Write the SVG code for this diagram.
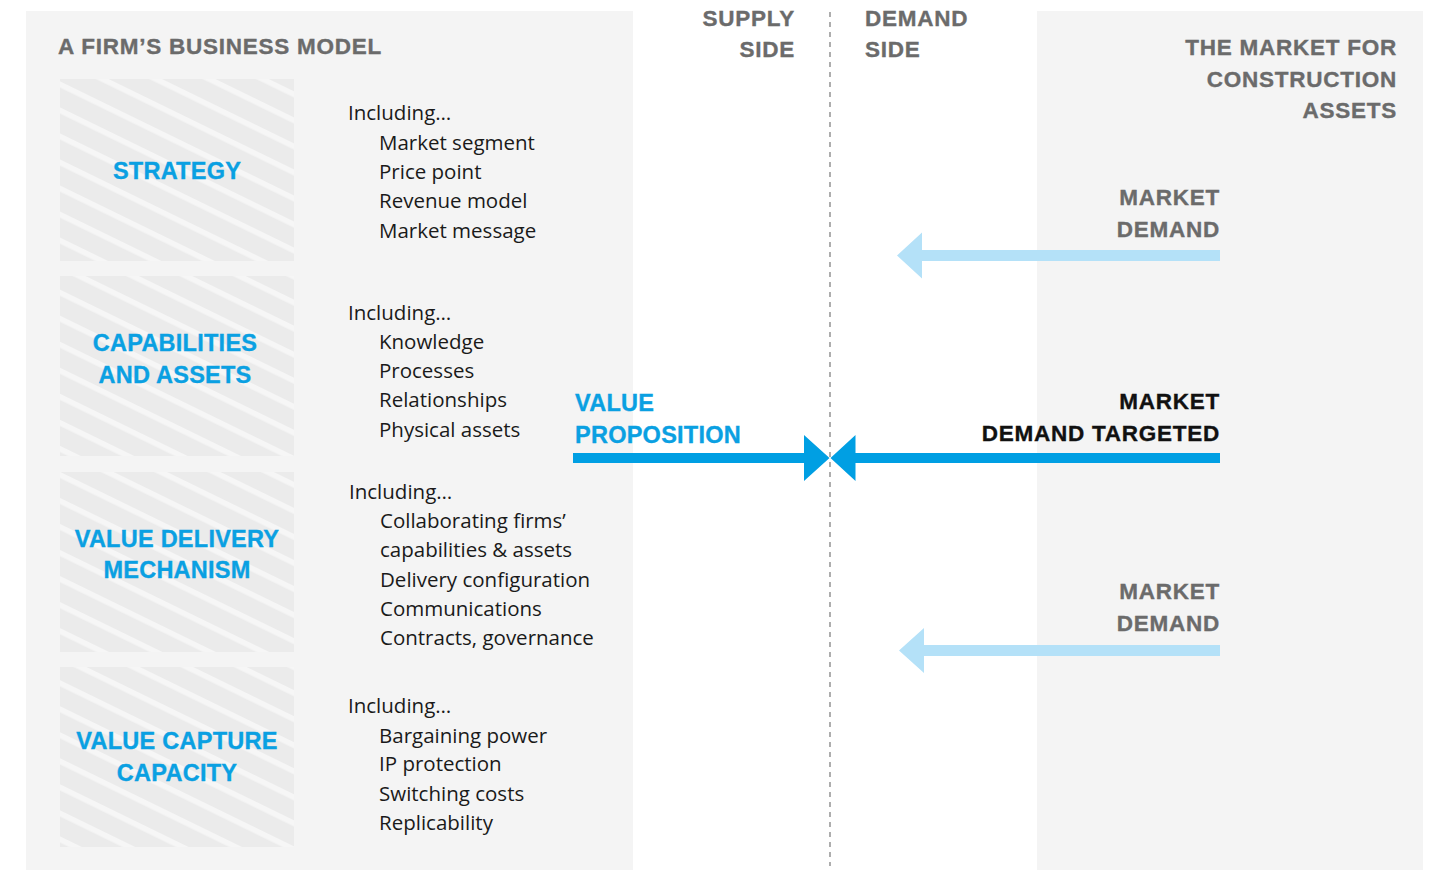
<svg xmlns="http://www.w3.org/2000/svg" width="1430" height="870" viewBox="0 0 1430 870">
  <defs>
    <pattern id="hatch" width="20" height="23.4" patternUnits="userSpaceOnUse" patternTransform="rotate(26)">
      <rect width="20" height="23.4" fill="#ebebeb"/>
      <rect y="0" width="20" height="5.5" fill="#f6f6f6"/>
    </pattern>
    <style>
      .panel { fill: #f4f4f4; }
      .tile { fill: url(#hatch); }
      .head { font-family: "Liberation Sans", Arial, Helvetica, sans-serif; font-weight: bold; font-size: 22.5px; letter-spacing: 0.75px; fill: #6b6b6b; stroke: #6b6b6b; stroke-width: 0.35px; }
      .dark { fill: #111111; stroke: #111111; }
      .label { font-family: "Liberation Sans", Arial, Helvetica, sans-serif; font-weight: bold; font-size: 23.5px; letter-spacing: 0.25px; fill: #0aa0e2; stroke: #0aa0e2; stroke-width: 0.35px; text-anchor: middle; }
      .vp { text-anchor: start; }
      .body { font-family: "Open Sans", "Noto Sans", sans-serif; font-size: 20.5px; fill: #1a1a1a; }
      .end { text-anchor: end; }
      .strong { fill: #009fe3; }
      .soft { fill: #b4e1f8; }
      .divider { stroke: #9a9a9a; stroke-width: 1.6; stroke-dasharray: 5 5; fill: none; }
    </style>
  </defs>

  <!-- background panels -->
  <rect class="panel" x="26" y="11" width="607" height="859"/>
  <rect class="panel" x="1037" y="11" width="386" height="859"/>

  <!-- supply / demand divider -->
  <line class="divider" x1="830" y1="12" x2="830" y2="866"/>

  <text class="head" x="58" y="54">A FIRM’S BUSINESS MODEL</text>

  <g id="supply-side">
    <text class="head end" x="795" y="26">SUPPLY</text>
    <text class="head end" x="795" y="57">SIDE</text>
  </g>
  <g id="demand-side">
    <text class="head" x="865" y="26">DEMAND</text>
    <text class="head" x="865" y="57">SIDE</text>
  </g>

  <g id="market-title">
    <text class="head end" x="1397" y="55">THE MARKET FOR</text>
    <text class="head end" x="1397" y="87">CONSTRUCTION</text>
    <text class="head end" x="1397" y="118">ASSETS</text>
  </g>

  <!-- business model building blocks -->
  <g id="strategy">
    <rect class="tile" x="60" y="79" width="234" height="182"/>
    <text class="label" x="177" y="179">STRATEGY</text>
    <text class="body" x="348" y="120">Including…</text>
    <text class="body" x="379" y="150">Market segment</text>
    <text class="body" x="379" y="179">Price point</text>
    <text class="body" x="379" y="208">Revenue model</text>
    <text class="body" x="379" y="238">Market message</text>
  </g>

  <g id="capabilities">
    <rect class="tile" x="60" y="276" width="234" height="180"/>
    <text class="label" x="175" y="351">CAPABILITIES</text>
    <text class="label" x="175" y="383">AND ASSETS</text>
    <text class="body" x="348" y="320">Including…</text>
    <text class="body" x="379" y="349">Knowledge</text>
    <text class="body" x="379" y="378">Processes</text>
    <text class="body" x="379" y="407">Relationships</text>
    <text class="body" x="379" y="437">Physical assets</text>
  </g>

  <g id="value-delivery">
    <rect class="tile" x="60" y="472" width="234" height="180"/>
    <text class="label" x="177" y="547">VALUE DELIVERY</text>
    <text class="label" x="177" y="578">MECHANISM</text>
    <text class="body" x="349" y="499">Including…</text>
    <text class="body" x="380" y="528">Collaborating firms’</text>
    <text class="body" x="380" y="557">capabilities &amp; assets</text>
    <text class="body" x="380" y="587">Delivery configuration</text>
    <text class="body" x="380" y="616">Communications</text>
    <text class="body" x="380" y="645">Contracts, governance</text>
  </g>

  <g id="value-capture">
    <rect class="tile" x="60" y="667" width="234" height="180"/>
    <text class="label" x="177" y="749">VALUE CAPTURE</text>
    <text class="label" x="177" y="781">CAPACITY</text>
    <text class="body" x="348" y="713">Including…</text>
    <text class="body" x="379" y="743">Bargaining power</text>
    <text class="body" x="379" y="771">IP protection</text>
    <text class="body" x="379" y="801">Switching costs</text>
    <text class="body" x="379" y="830">Replicability</text>
  </g>

  <g id="value-proposition">
    <text class="label vp" x="575" y="411">VALUE</text>
    <text class="label vp" x="575" y="443">PROPOSITION</text>
  </g>

  <g id="market-demand-top">
    <text class="head end" x="1220" y="205">MARKET</text>
    <text class="head end" x="1220" y="237">DEMAND</text>
  </g>

  <g id="market-demand-targeted">
    <text class="head end dark" x="1220" y="409">MARKET</text>
    <text class="head end dark" x="1220" y="441">DEMAND TARGETED</text>
  </g>

  <g id="market-demand-bottom">
    <text class="head end" x="1220" y="599">MARKET</text>
    <text class="head end" x="1220" y="631">DEMAND</text>
  </g>

  <!-- connectors -->
  <g id="connectors">
    <path class="soft" d="M1220 250 L922 250 L922 232.5 L897 255.5 L922 278.5 L922 261 L1220 261 Z"/>
    <path class="soft" d="M1220 645 L924 645 L924 628 L899 650.5 L924 673 L924 656 L1220 656 Z"/>
    <path class="strong" d="M573 453 L804 453 L804 435 L829.5 458 L804 481 L804 463 L573 463 Z"/>
    <path class="strong" d="M1220 453 L855.5 453 L855.5 435 L830.5 458 L855.5 481 L855.5 463 L1220 463 Z"/>
  </g>
</svg>
